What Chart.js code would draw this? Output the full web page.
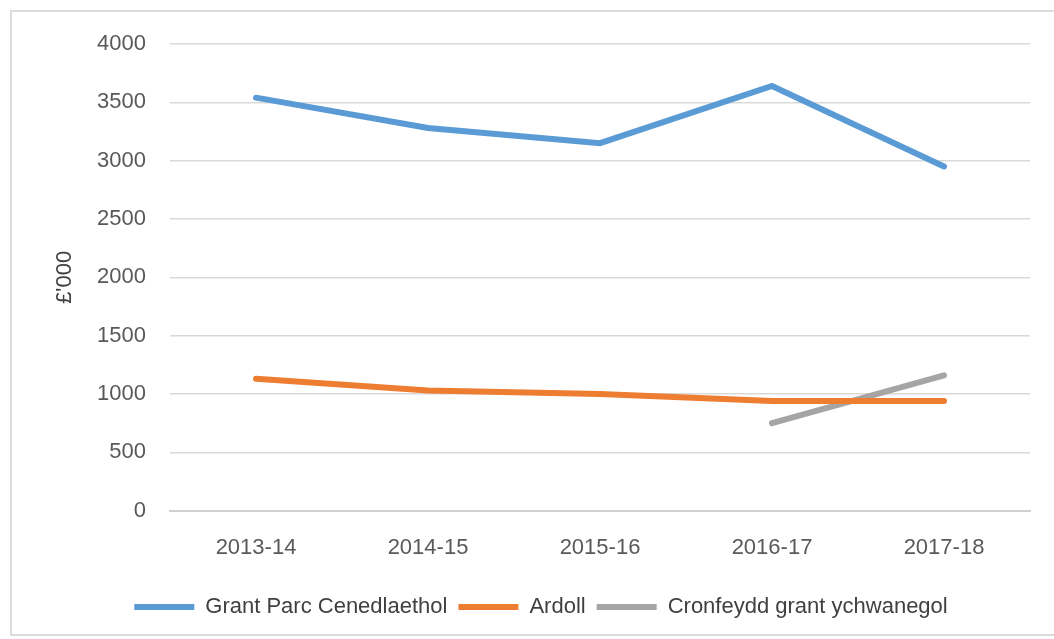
<!DOCTYPE html>
<html>
<head>
<meta charset="utf-8">
<script src="https://cdn.jsdelivr.net/npm/chart.js@4"></script>
<style>
  body { margin: 0; background: #fff; }
  .frame { position: absolute; left: 10px; top: 10px; width: 1050px; height: 622px; border: 2px solid #dcdcdc; }
  .wrap { position: absolute; left: 0; top: 0; width: 1054px; height: 639px; }
</style>
</head>
<body>
<div class="frame"></div>
<div class="wrap"><canvas id="chart" width="1054" height="639"></canvas></div>
<script>
const years = ['2013-14', '2014-15', '2015-16', '2016-17', '2017-18'];
const grantParc = [3540, 3280, 3150, 3640, 2950];
const ardoll = [1130, 1030, 1000, 940, 940];
const cronfeydd = [null, null, null, 750, 1160];
const yTicks = [0, 500, 1000, 1500, 2000, 2500, 3000, 3500, 4000];

const tickFont = { family: 'Liberation Sans, Arial', size: 22 };

function line(label, data, color) {
  return {
    label: label,
    data: data,
    borderColor: color,
    backgroundColor: color,
    borderWidth: 6,
    pointRadius: 0,
    tension: 0,
    borderCapStyle: 'round',
    spanGaps: false
  };
}

const ctx = document.getElementById('chart').getContext('2d');
new Chart(ctx, {
  type: 'line',
  data: {
    labels: years,
    datasets: [
      line('Grant Parc Cenedlaethol', grantParc, '#5B9BD5'),
      line('Ardoll', ardoll, '#ED7D31'),
      line('Cronfeydd grant ychwanegol', cronfeydd, '#A5A5A5')
    ]
  },
  options: {
    responsive: false,
    animation: false,
    layout: { padding: { left: 52, right: 24, top: 44, bottom: 11 } },
    plugins: {
      tooltip: { enabled: false },
      legend: {
        position: 'bottom',
        labels: {
          color: '#404040',
          font: { family: 'Liberation Sans, Arial', size: 22 },
          boxWidth: 60,
          boxHeight: 6,
          padding: 11,
          generateLabels(chart) {
            const items = Chart.defaults.plugins.legend.labels.generateLabels(chart);
            items.forEach(it => { it.lineWidth = 0; });
            return items;
          }
        }
      }
    },
    scales: {
      x: {
        offset: true,
        grid: { display: false, drawTicks: false },
        border: { color: '#d0d0d0', width: 2 },
        ticks: { color: '#595959', font: tickFont, padding: 24, maxRotation: 0 }
      },
      y: {
        min: 0,
        max: 4000,
        afterBuildTicks(scale) { scale.ticks = yTicks.map(v => ({ value: v })); },
        afterFit(scale) { scale.width = 118; },
        grid: { color: '#d9d9d9', lineWidth: 1.5, drawTicks: false },
        border: { display: false },
        ticks: {
          color: '#595959',
          font: tickFont,
          padding: 24,
          callback: v => String(v)
        },
        title: {
          display: true,
          text: "£'000",
          color: '#404040',
          font: { family: 'Liberation Sans, Arial', size: 22 },
          padding: { top: 0, bottom: 0 }
        }
      }
    }
  }
});
</script>
</body>
</html>
